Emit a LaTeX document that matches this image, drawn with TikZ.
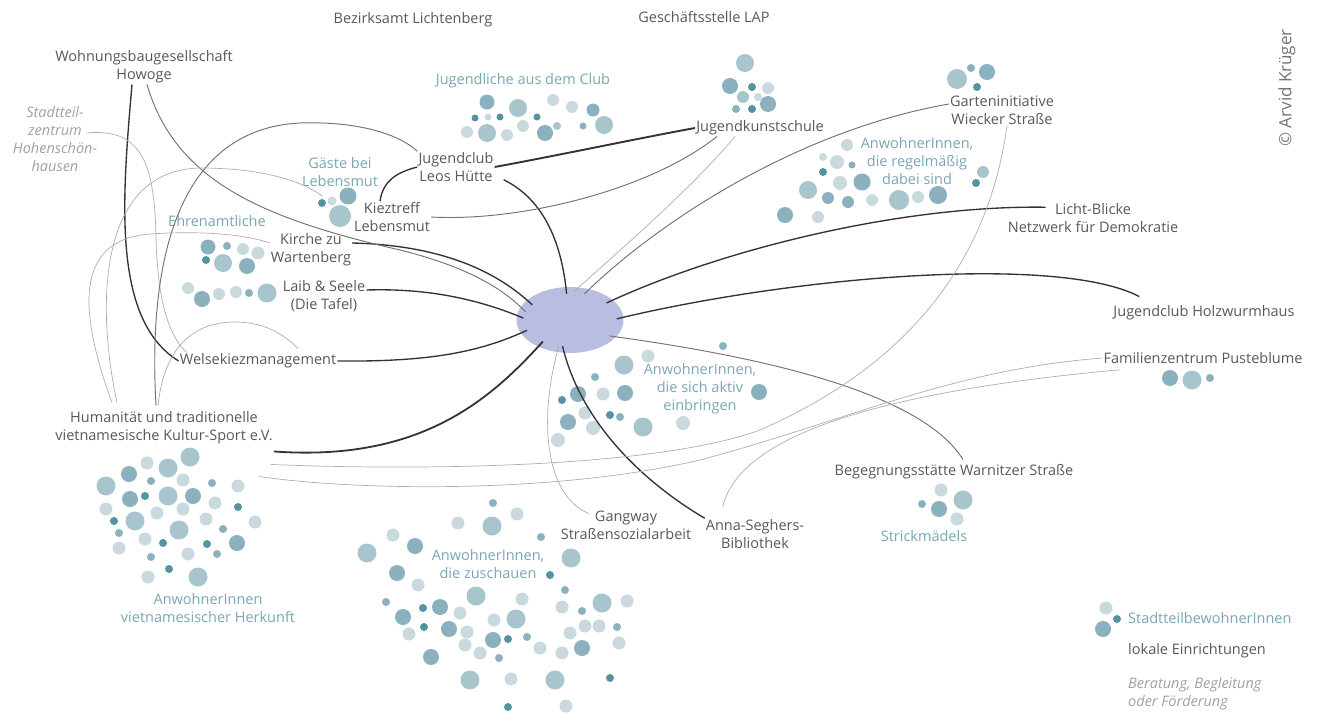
\documentclass[tikz,border=0pt]{standalone}
\usepackage{fontspec}
\setmainfont{Open Sans}
\usetikzlibrary{shapes.geometric}

\definecolor{hubc}{RGB}{186,189,226}
\definecolor{orgc}{RGB}{88,88,88}
\definecolor{grpc}{RGB}{122,166,180}
\definecolor{infc}{RGB}{160,160,160}
\definecolor{dA}{RGB}{84,148,160}
\definecolor{dB}{RGB}{138,177,189}
\definecolor{dC}{RGB}{168,197,206}
\definecolor{dD}{RGB}{202,217,222}

\begin{document}
\begin{tikzpicture}[x=1pt,y=-1pt,
    every node/.style={inner sep=1pt,align=center,font=\fontsize{14.5}{18}\selectfont},
    org/.style={text=orgc},
    grp/.style={text=grpc},
    inf/.style={text=infc,font=\fontsize{14.5}{18}\selectfont\itshape},
    linkdark/.style={draw=black!80,line width=1.35pt},
    linkmid/.style={draw=black!55,line width=0.95pt},
    linklight/.style={draw=black!32,line width=0.7pt},
    tohub/.style={shorten >=-7pt}]
        \useasboundingbox (0,0) rectangle (1322,712);

        % Punkte (Gruppen von Bewohnern)
        \foreach \x/\y/\r/\c in {487/102/7.5/dB,475/118/3.5/dA,488/117/3.5/dD,500/117/3.5/dA,518/108/9/dC,553/100/6/dD,572/107/6/dD,593/110/6.5/dB,537/117/3.5/dA,467/132/6/dD,487/133/9/dC,507/135/6/dD,523/126/6/dD,545/133/8/dB,557/126/4/dC,583/126/3.5/dB,604/125/9/dC,
            745/63/9/dC,730/86/8/dB,752/87/4/dA,768/88/6/dD,743/97/6/dC,758/97/4/dD,768/104/8/dB,736/109/4/dB,752/109/4/dA,
            957/79/10/dC,971/68/4/dB,987/72/8/dB,977/87/4/dA,
            847/145/6/dD,823/157/4/dD,837/162/7/dD,852/165/3.5/dB,823/172/4/dA,840/183/7/dD,862/182/8.5/dB,808/190/9/dC,828/198/6/dB,848/202/6/dB,872/200/6/dD,785/215/8/dB,818/217/6/dD,899/200/10/dC,918/197/6/dD,938/195/9/dB,983/172/6/dC,976/183/4/dA,
            322/203/4/dA,332/201/4.5/dD,348/196/8.5/dB,340/216/11/dC,
            208/247/7.5/dB,227/246/4/dB,243/249/6/dD,258/253/6.5/dD,206/260/4/dA,223/263/9/dC,247/266/8/dB,
            188/288/6/dD,202/299/8/dB,219/294/6/dD,236/292/6/dD,249/293/4/dB,267/293/9.5/dC}
            \fill[\c] (\x,\y) circle (\r pt);
        \foreach \x/\y/\r/\c in {723/346/4/dB,648/356/6.5/dD,624/365/9.5/dC,595/377/4/dB,578/394/8/dB,562/400/4/dA,603/394/6.5/dD,625/393/8/dB,585/413/6.5/dD,610/415/4/dA,620/417/4/dB,568/422/8/dB,593/428/7/dD,643/427/9.5/dC,683/423/7/dD,558/440/7/dD,759/392/8/dB,
            1170/378/8/dB,1192/380/9.5/dC,1210/378/4/dB,
            941/490/6.5/dD,963/500/9.5/dC,922/504/4/dB,939/509/8/dB,957/519/6.5/dD,
            1106/608/6.5/dD,1117/619/4/dA,1103/629/8/dB}
            \fill[\c] (\x,\y) circle (\r pt);
        \foreach \x/\y/\r/\c in {190/457/9.5/dC,147/463/6.5/dD,168/468/9.5/dC,129/474/8/dB,106/486/9.5/dC,151/481/4/dB,183/480/6.5/dD,212/483/4/dB,238/486/6.5/dD,130/499/8/dB,145/496/4/dA,168/496/9.5/dC,193/496/8/dB,215/503/6.5/dD,238/507/4/dA,106/509/6.5/dD,157/513/6.5/dD,183/509/6.5/dD,114/521/4/dA,135/521/9.5/dC,206/519/6.5/dD,255/522/6.5/dD,119/533/4/dB,179/530/9.5/dC,223/529/4/dB,145/539/6.5/dD,163/543/4/dA,207/544/4/dA,237/543/8/dB,119/548/6.5/dD,188/554/6.5/dD,217/554/4/dB,151/557/4/dB,169/569/4/dA,148/577/6.5/dD,198/577/9.5/dC}
            \fill[\c] (\x,\y) circle (\r pt);
        \foreach \x/\y/\r/\c in {493/503/4/dB,517/514/6.5/dD,458/523/6.5/dD,492/526/9.5/dC,541/537/4/dB,393/535/6.5/dD,415/546/8/dB,367/553/9.5/dC,571/558/9.5/dC,550/575/4/dA,397/573/8/dB,418/585/6.5/dD,565/590/4/dB,476/596/9.5/dC,522/599/6.5/dD,386/602/4/dB,440/607/8/dB,423/608/4/dA,460/613/6.5/dD,562/607/6.5/dD,582/611/4/dB,602/603/9.5/dC,627/601/6.5/dD,403/617/8/dB,494/620/6.5/dD,516/619/9.5/dC,424/627/4/dA,449/629/8/dB,467/632/6.5/dD,409/634/6.5/dD,570/633/6.5/dD,585/626/6.5/dD,599/626/6.5/dD,617/627/4/dB,493/640/8/dB,508/639/4/dA,527/637/4/dB,465/645/6.5/dD,480/653/6.5/dD,499/658/4/dB,540/648/6.5/dD,562/653/6.5/dD,582/648/8/dB,619/643/6.5/dD,431/657/8/dB,470/680/9.5/dC,511/679/6.5/dD,555/680/9.5/dC,610/678/4/dA,508/707/4/dA,566/706/6.5/dD}
            \fill[\c] (\x,\y) circle (\r pt);

        \node[ellipse,fill=hubc,minimum width=107pt,minimum height=66pt] (hub) at (570,320) {};

        % lokale Einrichtungen
        \node[org] (bez) at (413,20) {Bezirksamt Lichtenberg};
        \node[org] (gst) at (704,17) {Geschäftsstelle LAP};
        \node[org] (howoge) at (144,67) {Wohnungsbaugesellschaft\\Howoge};
        \node[inf] (stz) at (55,139) {Stadtteil-\\zentrum\\Hohenschön-\\hausen};
        \node[org] (jks) at (760,128) {Jugendkunstschule};
        \node[org] (garten) at (1002,110) {Garteninitiative\\Wiecker Straße};
        \node[org] (leos) at (456,167) {Jugendclub\\Leos Hütte};
        \node[org] (kiez) at (392,217) {Kieztreff\\Lebensmut};
        \node[org] (kirche) at (311,250) {Kirche zu\\Wartenberg};
        \node[org] (laib) at (324,296) {Laib \& Seele\\(Die Tafel)};
        \node[org] (welse) at (258,361) {Welsekiezmanagement};
        \node[org] (hum) at (164,428) {Humanität und traditionelle\\vietnamesische Kultur-Sport e.V.};
        \node[org] (licht) at (1093,218) {Licht-Blicke\\Netzwerk für Demokratie};
        \node[org] (holz) at (1204,313) {Jugendclub Holzwurmhaus};
        \node[org] (fam) at (1203,358) {Familienzentrum Pusteblume};
        \node[org] (beg) at (954,472) {Begegnungsstätte Warnitzer Straße};
        \node[org] (gang) at (626,525) {Gangway\\Straßensozialarbeit};
        \node[org] (anna) at (755,534) {Anna-Seghers-\\Bibliothek};

        % Bewohnergruppen
        \node[grp] (jug) at (523,81) {Jugendliche aus dem Club};
        \node[grp] (regel) at (917,161) {AnwohnerInnen,\\die regelmäßig\\dabei sind};
        \node[grp] (gaeste) at (340,172) {Gäste bei\\Lebensmut};
        \node[grp] (ehren) at (217,221) {Ehrenamtliche};
        \node[grp] (aktiv) at (700,389) {AnwohnerInnen,\\die sich aktiv\\einbringen};
        \node[grp] (strick) at (924,536) {Strickmädels};
        \node[grp] (zusch) at (488,564) {AnwohnerInnen,\\die zuschauen};
        \node[grp] (viet) at (208,608) {AnwohnerInnen\\vietnamesischer Herkunft};

        % Legende
        \node[grp,anchor=west] (stb) at (1127,618) {StadtteilbewohnerInnen};
        \node[org,anchor=west] (lokal) at (1127,651) {lokale Einrichtungen};
        \node[inf,anchor=west,align=left] (berat) at (1127,694) {Beratung, Begleitung\\oder Förderung};
        \node[text=black!55,rotate=90,font=\fontsize{17}{20}\selectfont] (copy) at (1287,88) {© Arvid Krüger};

        % Verbindungen zum Zentrum
        \draw[linkdark,tohub] ([xshift=9pt,yshift=3pt]leos.south east) .. controls (545,200) and (562,245) .. (hub.97);
        \draw[linklight,tohub] ([xshift=-25pt]jks.south) .. controls (690,190) and (620,250) .. (hub.75);
        \draw[linkmid,tohub] ([yshift=6pt]garten.west) .. controls (800,130) and (660,220) .. (hub.58);
        \draw[linkdark,tohub] ([xshift=39pt,yshift=-5pt]licht.north west) .. controls (900,205) and (720,250) .. (hub.25);
        \draw[linkdark,tohub] ([xshift=27pt,yshift=8pt]holz.north west) .. controls (1060,255) and (800,275) .. (hub.3);
        \draw[linkmid,tohub] ([xshift=9pt,yshift=4pt]beg.north) .. controls (920,390) and (750,355) .. (hub.-20);
        \draw[linkdark,tohub] (anna.north west) .. controls (640,480) and (580,420) .. (hub.-100);
        \draw[linklight,tohub] ([xshift=29pt,yshift=-4pt]gang.north west) .. controls (545,495) and (538,420) .. (hub.-112);
        \draw[linkdark,line width=1.8pt,tohub] ([yshift=-6pt]hum.south east) .. controls (420,462) and (490,400) .. (hub.-140);
        \draw[linkdark,tohub] (welse.east) .. controls (430,362) and (480,352) .. (hub.-165);
        \draw[linkdark,tohub] ([yshift=6pt]laib.east) .. controls (430,288) and (480,300) .. (hub.175);
        \draw[linkdark,tohub] ([yshift=7pt]kirche.east) .. controls (430,245) and (490,265) .. (hub.155);
        \draw[linkmid,tohub] ([xshift=3pt]howoge.south) .. controls (175,180) and (260,218) .. (400,250) .. controls (460,265) and (500,285) .. (hub.165);

        % Verbindungen untereinander
        \draw[linkdark,line width=1.9pt] (leos.east) .. controls (560,155) and (640,138) .. (jks.west);
        \draw[linkdark] ([xshift=-12pt]kiez.north) .. controls (383,180) and (398,172) .. (leos.west);
        \draw[linkmid] ([xshift=-43pt]jks.south) .. controls (650,190) and (520,222) .. (kiez.east);
        \draw[linkdark] ([xshift=-12pt]howoge.south) .. controls (122,200) and (112,320) .. (welse.west);
        \draw[linklight] ([xshift=-12pt,yshift=6pt]stz.east) .. controls (140,128) and (155,160) .. (156,240) .. controls (158,300) and (168,335) .. ([xshift=8pt]welse.north west);
        \draw[linkmid] ([xshift=-8pt,yshift=5pt]hum.north) .. controls (150,300) and (160,130) .. (300,123) .. controls (360,121) and (400,135) .. (leos.north west);
        \draw[linklight] ([xshift=-47pt,yshift=8pt]hum.north) .. controls (95,300) and (100,170) .. (200,168) .. controls (260,168) and (300,180) .. ([xshift=-18pt,yshift=-8pt]gaeste.south);
        \draw[linklight] ([xshift=-52pt,yshift=8pt]hum.north) .. controls (80,315) and (72,240) .. (150,234) .. controls (210,230) and (250,236) .. ([yshift=7pt]kirche.west);
        \draw[linklight] ([xshift=-6pt,yshift=5pt]hum.north) .. controls (165,340) and (200,322) .. (235,322) .. controls (265,322) and (285,335) .. ([xshift=40pt,yshift=4pt]welse.north);
        \draw[linklight] ([xshift=5pt]garten.south) .. controls (990,250) and (920,360) .. (760,430) .. controls (650,470) and (400,470) .. ([xshift=-3pt,yshift=-19pt]hum.south east);
        \draw[linklight] (fam.west) .. controls (950,370) and (850,420) .. (700,460) .. controls (550,495) and (350,490) .. ([xshift=-15pt,yshift=-31pt]hum.south east);
        \draw[linklight] ([xshift=17pt,yshift=-5pt]fam.south west) .. controls (900,390) and (740,430) .. ([xshift=18pt,yshift=11pt]anna.north west);
      \end{tikzpicture}
\end{document}
